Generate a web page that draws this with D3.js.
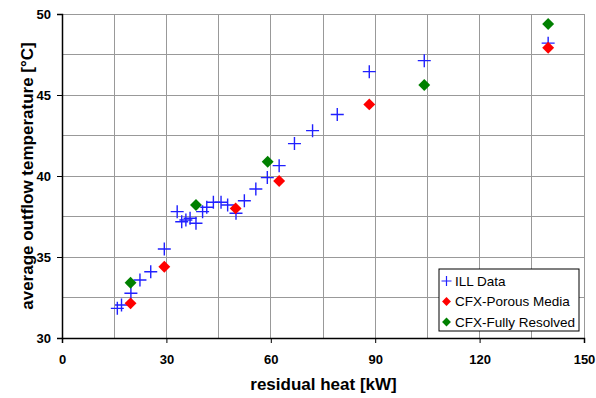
<!DOCTYPE html>
<html>
<head>
<meta charset="utf-8">
<script src="https://cdn.jsdelivr.net/npm/d3@7"></script>
<style>
  body { margin: 0; background: #fff; }
  svg { font-family: "Liberation Sans", Arial, sans-serif; }
</style>
</head>
<body>
<svg id="chart" width="596" height="398"></svg>
<script>
const illHeat = [15.9, 17.1, 19.8, 22.4, 25.5, 29.4, 33.1, 34.4, 35.6, 36.8, 38.5, 40.4, 41.6, 43.5, 45.7, 47.6, 50.0, 52.4, 55.7, 59.0, 62.4, 66.8, 72.0, 79.1, 88.3, 104.1, 139.7];
const illTemp = [31.83, 32.04, 32.76, 33.58, 34.09, 35.49, 37.8, 37.18, 37.28, 37.39, 37.08, 37.8, 38.07, 38.38, 38.38, 38.21, 37.7, 38.47, 39.2, 39.9, 40.64, 42.0, 42.8, 43.8, 46.44, 47.12, 48.2];

const porousHeat = [19.7, 29.4, 49.9, 62.4, 88.3, 139.7];
const porousTemp = [32.14, 34.4, 38.0, 39.69, 44.42, 47.92];

const resolvedHeat = [19.7, 38.5, 59.1, 104.1, 139.7];
const resolvedTemp = [33.41, 38.21, 40.88, 45.62, 49.38];

const xTicks = [0, 30, 60, 90, 120, 150];
const yTicks = [30, 35, 40, 45, 50];

const svg = d3.select("#chart");
const plotL = 62, plotR = 584, plotT = 14, plotB = 338;

const x = d3.scaleLinear().domain([0, 150]).range([plotL, plotR]);
const y = d3.scaleLinear().domain([30, 50]).range([plotB, plotT]);

// grid
const grid = svg.append("g").attr("stroke", "#999").attr("stroke-width", 1).attr("shape-rendering", "crispEdges");
grid.selectAll("line.v").data(d3.range(15, 151, 15)).join("line")
    .attr("x1", d => x(d)).attr("x2", d => x(d)).attr("y1", plotT).attr("y2", plotB);
grid.selectAll("line.h").data(d3.range(32.5, 50.1, 2.5)).join("line")
    .attr("x1", plotL).attr("x2", plotR).attr("y1", d => y(d)).attr("y2", d => y(d));

// axes
const xAxis = svg.append("g")
    .attr("transform", `translate(0,${plotB})`)
    .call(d3.axisBottom(x).tickValues(xTicks).tickSize(5).tickPadding(12));
const yAxis = svg.append("g")
    .attr("transform", `translate(${plotL},0)`)
    .call(d3.axisLeft(y).tickValues(yTicks).tickSize(5).tickPadding(6));

[xAxis, yAxis].forEach(a => {
    a.select(".domain").attr("stroke", "#000").attr("stroke-width", 1.5);
    a.selectAll(".tick line").attr("stroke", "#000");
    a.selectAll("text").attr("font-size", 13).attr("font-weight", "bold").attr("fill", "#000")
        .attr("font-family", "'Liberation Sans', Arial, sans-serif");
});

// titles
svg.append("text")
    .attr("x", (plotL + plotR) / 2 + 0.5).attr("y", 390)
    .attr("text-anchor", "middle").attr("font-size", 17).attr("font-weight", "bold")
    .text("residual heat [kW]");
svg.append("text")
    .attr("transform", `translate(33,${(plotT + plotB) / 2}) rotate(-90)`)
    .attr("text-anchor", "middle").attr("font-size", 17).attr("font-weight", "bold")
    .text("average outflow temperature [°C]");

// markers
const diamond = d3.symbol().type(d3.symbolDiamond2).size(90);

function plusPath(s) {
    return `M${-s},0H${s}M0,${-s}V${s}`;
}

svg.append("g").selectAll("path").data(d3.zip(illHeat, illTemp)).join("path")
    .attr("transform", d => `translate(${x(d[0])},${y(d[1])})`)
    .attr("d", plusPath(6.5))
    .attr("stroke", "#2020ff").attr("stroke-width", 1.4).attr("fill", "none");

svg.append("g").selectAll("path").data(d3.zip(porousHeat, porousTemp)).join("path")
    .attr("transform", d => `translate(${x(d[0])},${y(d[1])})`)
    .attr("d", diamond).attr("fill", "#ff0000");

svg.append("g").selectAll("path").data(d3.zip(resolvedHeat, resolvedTemp)).join("path")
    .attr("transform", d => `translate(${x(d[0])},${y(d[1])})`)
    .attr("d", diamond).attr("fill", "#008000");

// legend
const lg = svg.append("g").attr("transform", "translate(439,269)");
lg.append("rect").attr("width", 140).attr("height", 62)
    .attr("fill", "#fff").attr("stroke", "#000").attr("stroke-width", 1);
const legendItems = [
    { label: "ILL Data", kind: "plus", color: "#2020ff" },
    { label: "CFX-Porous Media", kind: "diamond", color: "#ff0000" },
    { label: "CFX-Fully Resolved", kind: "diamond", color: "#008000" }
];
legendItems.forEach((it, i) => {
    const cy = 12 + i * 20.5;
    if (it.kind === "plus") {
        lg.append("path").attr("transform", `translate(7.5,${cy})`).attr("d", plusPath(5))
            .attr("stroke", it.color).attr("stroke-width", 1.2).attr("fill", "none");
    } else {
        lg.append("path").attr("transform", `translate(7.5,${cy})`)
            .attr("d", d3.symbol().type(d3.symbolDiamond2).size(50)).attr("fill", it.color);
    }
    lg.append("text").attr("x", 16).attr("y", cy + 4.5).attr("font-size", 13.5).text(it.label);
});
</script>
</body>
</html>
